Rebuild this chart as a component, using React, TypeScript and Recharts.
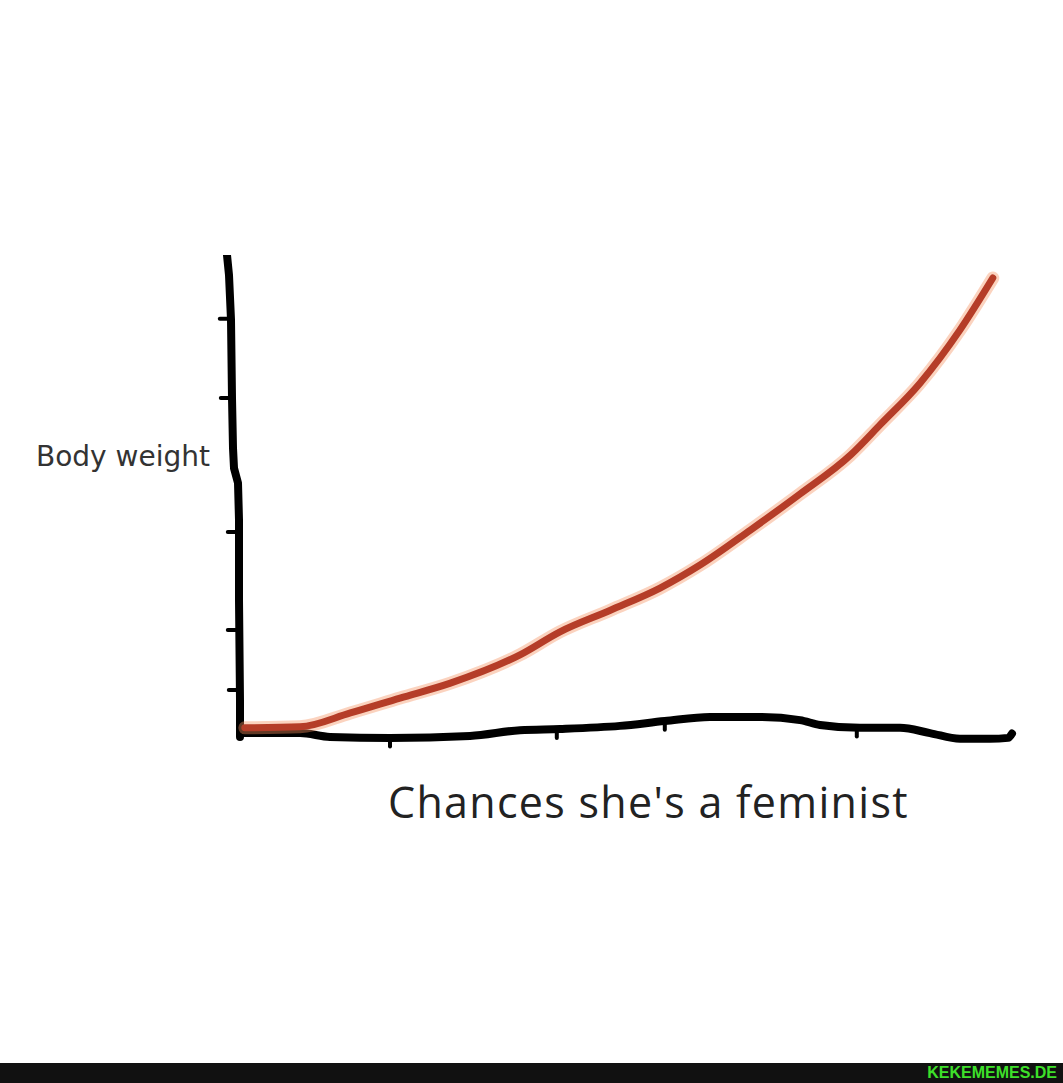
import React from "react";
import { LineChart, Line, XAxis, YAxis, ReferenceLine } from "recharts";

// Red curve: body weight vs chances
const redCurve = [
  { x: 3.1, y: 1.5 },
  { x: 10, y: 1.7 },
  { x: 16.3, y: 4.6 },
  { x: 22.5, y: 7.7 },
  { x: 28.8, y: 10.8 },
  { x: 37.5, y: 16.7 },
  { x: 42.5, y: 21.5 },
  { x: 48.8, y: 26.0 },
  { x: 55, y: 30.6 },
  { x: 60, y: 35.4 },
  { x: 66.3, y: 42.7 },
  { x: 72.5, y: 50.2 },
  { x: 78.8, y: 58.3 },
  { x: 82.5, y: 64.6 },
  { x: 87.5, y: 73.3 },
  { x: 92.5, y: 84.4 },
  { x: 96.6, y: 95.2 },
];

// Hand-drawn horizontal axis (wavy black line)
const xAxisStroke = [
  { x: 2.5, y: 0.4 },
  { x: 10, y: 0.4 },
  { x: 13.75, y: -0.4 },
  { x: 21.25, y: -0.6 },
  { x: 31.25, y: -0.2 },
  { x: 37.5, y: 1.0 },
  { x: 42.5, y: 1.25 },
  { x: 50, y: 1.9 },
  { x: 55.6, y: 2.9 },
  { x: 61.25, y: 3.75 },
  { x: 67.5, y: 3.75 },
  { x: 72.5, y: 3.1 },
  { x: 75, y: 2.1 },
  { x: 80, y: 1.5 },
  { x: 85, y: 1.5 },
  { x: 88.75, y: 0.4 },
  { x: 92.5, y: -0.8 },
  { x: 96.25, y: -0.8 },
  { x: 98.5, y: -0.6 },
  { x: 99, y: 0.3 },
];

// Hand-drawn vertical axis
const yAxisStroke = [
  { x: 0.875, y: 100 },
  { x: 1.125, y: 95.8 },
  { x: 1.375, y: 86.5 },
  { x: 1.5, y: 70.2 },
  { x: 1.625, y: 59.8 },
  { x: 1.75, y: 55.6 },
  { x: 2.25, y: 52.5 },
  { x: 2.375, y: 44.8 },
  { x: 2.375, y: 28.1 },
  { x: 2.5, y: 7.3 },
  { x: 2.5, y: -0.4 },
];

// Tick marks on the vertical axis: value and axis x at that height
const yTickValues = [86.7, 70.2, 42.3, 21.9, 9.4];
const yTickAxisX = [1.375, 1.5, 2.375, 2.375, 2.5];

// Tick marks on the horizontal axis: x value and line level at that x
const xTickValues = [21.25, 42.1, 55.6, 79.6];
const xTickLineY = [-0.6, 1.2, 2.9, 1.5];

const yLabel = "Body weight";
const xLabel = "Chances she's a feminist";
const watermark = "KEKEMEMES.DE";

export default function App() {
  return (
    <div
      style={{
        position: "fixed",
        left: 0,
        top: 0,
        width: 1063,
        height: 1083,
        background: "#ffffff",
        overflow: "hidden",
      }}
    >
      <LineChart
        width={1063}
        height={1083}
        margin={{ left: 220, right: 43, top: 255, bottom: 300 }}
      >
        <XAxis type="number" dataKey="x" domain={[0, 100]} hide allowDataOverflow />
        <YAxis type="number" dataKey="y" domain={[-10, 100]} hide allowDataOverflow />
        {yTickValues.map((v, i) => (
          <ReferenceLine
            key={"yt" + i}
            segment={[
              { x: yTickAxisX[i] - 1.4, y: v },
              { x: yTickAxisX[i], y: v },
            ]}
            stroke="#000"
            strokeWidth={4}
            strokeLinecap="round"
            ifOverflow="visible"
          />
        ))}
        {xTickValues.map((v, i) => (
          <ReferenceLine
            key={"xt" + i}
            segment={[
              { x: v, y: xTickLineY[i] },
              { x: v, y: xTickLineY[i] - 1.8 },
            ]}
            stroke="#000"
            strokeWidth={4}
            strokeLinecap="round"
            ifOverflow="visible"
          />
        ))}
        <Line
          data={yAxisStroke}
          dataKey="y"
          type="linear"
          stroke="#000"
          strokeWidth={8}
          strokeLinecap="round"
          strokeLinejoin="round"
          dot={false}
          isAnimationActive={false}
        />
        <Line
          data={xAxisStroke}
          dataKey="y"
          type="monotone"
          stroke="#000"
          strokeWidth={8}
          strokeLinecap="round"
          dot={false}
          isAnimationActive={false}
        />
        <Line
          data={redCurve}
          dataKey="y"
          type="monotone"
          stroke="#f49060"
          strokeOpacity={0.4}
          strokeWidth={13}
          strokeLinecap="round"
          dot={false}
          isAnimationActive={false}
        />
        <Line
          data={redCurve}
          dataKey="y"
          type="monotone"
          stroke="#b53d28"
          strokeWidth={7}
          strokeLinecap="round"
          dot={false}
          isAnimationActive={false}
        />
      </LineChart>
      <div
        style={{
          position: "absolute",
          left: 36,
          top: 440,
          fontFamily: "'DejaVu Sans', sans-serif",
          fontSize: 28,
          color: "#333",
          whiteSpace: "nowrap",
        }}
      >
        {yLabel}
      </div>
      <div
        style={{
          position: "absolute",
          left: 388,
          top: 772,
          fontFamily: "'Open Sans', sans-serif",
          fontSize: 43,
          letterSpacing: 1.3,
          color: "#222",
          whiteSpace: "nowrap",
        }}
      >
        {xLabel}
      </div>
      <div
        style={{
          position: "absolute",
          left: 0,
          top: 1063,
          width: 1063,
          height: 20,
          background: "#111",
        }}
      >
        <div
          style={{
            position: "absolute",
            right: 6,
            top: 1,
            fontFamily: "'Liberation Sans', Arial, sans-serif",
            fontWeight: 700,
            fontSize: 16,
            color: "#3ee02a",
            whiteSpace: "nowrap",
          }}
        >
          {watermark}
        </div>
      </div>
    </div>
  );
}
